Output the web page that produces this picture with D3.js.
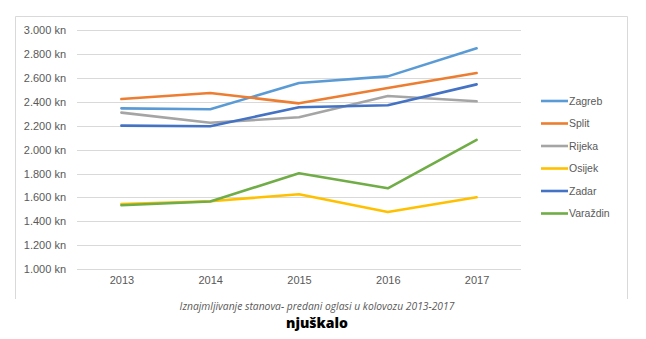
<!DOCTYPE html>
<html>
<head>
<meta charset="utf-8">
<script src="https://cdn.jsdelivr.net/npm/d3@7"></script>
<style>
  html, body { margin: 0; padding: 0; background: #fff; }
  svg { display: block; }
</style>
</head>
<body>
<svg id="chart" width="646" height="339"></svg>
<script>
// Average asking rent for flats, August 2013–2017 (kn)
const years = ["2013", "2014", "2015", "2016", "2017"];
const cities = ["Zagreb", "Split", "Rijeka", "Osijek", "Zadar", "Varaždin"];
const zagreb   = [2346, 2338, 2558, 2614, 2849];
const split    = [2424, 2475, 2388, 2517, 2642];
const rijeka   = [2310, 2226, 2271, 2450, 2405];
const osijek   = [1545, 1568, 1626, 1478, 1601];
const zadar    = [2201, 2196, 2355, 2372, 2547];
const varazdin = [1534, 1566, 1802, 1676, 2081];
const yTicks = [1000, 1200, 1400, 1600, 1800, 2000, 2200, 2400, 2600, 2800, 3000];
const colors = ["#5B9BD5", "#ED7D31", "#A5A5A5", "#FFC000", "#4472C4", "#70AD47"];
const caption = "Iznajmljivanje stanova- predani oglasi u kolovozu 2013-2017";
const brand = "njuškalo";

const seriesValues = [zagreb, split, rijeka, osijek, zadar, varazdin];
const series = cities.map((name, i) => ({ name, color: colors[i], values: seriesValues[i] }));

const svg = d3.select("#chart");

// Chart frame (left, top, right edges)
svg.append("path")
  .attr("d", "M15.5,299 L15.5,16.5 L627.5,16.5 L627.5,299")
  .attr("fill", "none").attr("stroke", "#D9D9D9").attr("stroke-width", 1);

const x = d3.scalePoint().domain(years).range([77, 521]).padding(0.5);
const y = d3.scaleLinear().domain([1000, 3000]).range([269, 30.3]);

const fmt = v => d3.format(",")(v).replace(/,/g, ".") + " kn";

// Horizontal gridlines
svg.append("g")
  .selectAll("line").data(yTicks).join("line")
  .attr("x1", 77).attr("x2", 521)
  .attr("y1", d => Math.round(y(d)) + 0.5).attr("y2", d => Math.round(y(d)) + 0.5)
  .attr("stroke", "#D9D9D9").attr("stroke-width", 1);

// Y axis labels
const yAxis = d3.axisLeft(y).tickValues(yTicks).tickFormat(fmt).tickSize(0).tickPadding(0);
svg.append("g")
  .attr("transform", "translate(66,0)")
  .call(yAxis)
  .call(g => g.select(".domain").remove())
  .call(g => g.selectAll("text")
    .attr("fill", "#595959")
    .attr("font-family", "'Liberation Sans', Arial, sans-serif")
    .attr("font-size", 11));

// X axis labels
const xAxis = d3.axisBottom(x).tickSize(0).tickPadding(0);
svg.append("g")
  .attr("transform", "translate(0,276)")
  .call(xAxis)
  .call(g => g.select(".domain").remove())
  .call(g => g.selectAll("text")
    .attr("fill", "#595959")
    .attr("font-family", "'Liberation Sans', Arial, sans-serif")
    .attr("font-size", 11));

// Series lines
const line = d3.line().x((d, i) => x(years[i])).y(d => y(d));
svg.append("g")
  .selectAll("path").data(series).join("path")
  .attr("d", d => line(d.values))
  .attr("fill", "none")
  .attr("stroke", d => d.color)
  .attr("stroke-width", 2.6)
  .attr("stroke-linejoin", "round")
  .attr("stroke-linecap", "round");

// Legend
const legend = svg.append("g")
  .selectAll("g").data(series).join("g")
  .attr("transform", (d, i) => `translate(541,${101 + i * 22.5})`);
legend.append("line")
  .attr("x1", 0).attr("x2", 27)
  .attr("stroke", d => d.color).attr("stroke-width", 2.6);
legend.append("text")
  .attr("x", 28).attr("dy", "0.35em")
  .attr("fill", "#595959")
  .attr("font-family", "'Liberation Sans', Arial, sans-serif")
  .attr("font-size", 10.5)
  .text(d => d.name);

// Caption and brand
svg.append("text")
  .attr("x", 317).attr("y", 310)
  .attr("text-anchor", "middle")
  .attr("fill", "#595959")
  .attr("font-family", "'Open Sans', sans-serif")
  .attr("font-style", "italic")
  .attr("font-size", 10.3)
  .text(caption);

svg.append("text")
  .attr("x", 317).attr("y", 328)
  .attr("text-anchor", "middle")
  .attr("fill", "#000")
  .attr("font-family", "'Open Sans', sans-serif")
  .attr("font-weight", 800)
  .attr("font-size", 14)
  .text(brand);
</script>
</body>
</html>
